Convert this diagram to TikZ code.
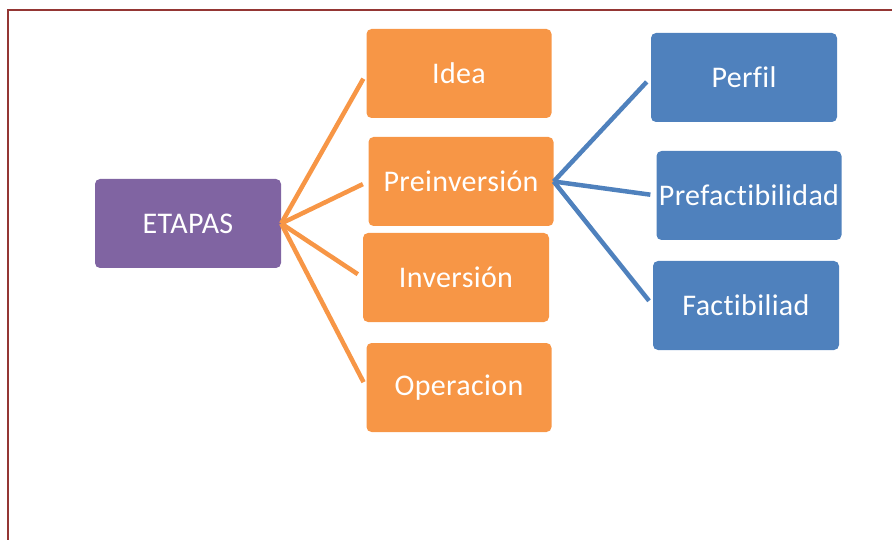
\documentclass[tikz,border=0pt]{standalone}
\usepackage{fontspec}
\setmainfont{Carlito}[Ligatures=NoCommon, LetterSpace=1.2]
\usepackage{tikz}
\usetikzlibrary{arrows}

\definecolor{etapacol}{HTML}{8064A2}
\definecolor{ramacol}{HTML}{F79646}
\definecolor{subcol}{HTML}{4F81BD}
\definecolor{margencol}{HTML}{943634}

\begin{document}
\begin{tikzpicture}[x=1pt,y=-1pt,
		caja/.style={rectangle, rounded corners=5pt, text=white, minimum height=89pt,
			minimum width=185pt, inner sep=1pt, font=\fontsize{30}{34}\selectfont},
		rama/.style={ramacol, line width=4.5pt, shorten >=6pt},
		subrama/.style={subcol, line width=4.5pt, shorten >=6pt}]
			\useasboundingbox (0,0) rectangle (892,540);
			\draw[margencol, line width=2.5pt] (892,10) -- (8,10) -- (8,540);

			\node[caja, fill=etapacol, minimum width=186pt] (e) at (188,223.5) {ETAPAS};
			\node[caja, fill=ramacol] (e-1) at (459,73.5) {Idea};
			\node[caja, fill=ramacol] (e-2) at (461,181.5) {Preinversión};
			\node[caja, fill=ramacol, minimum width=186pt] (e-3) at (456,277.5) {Inversión};
			\node[caja, fill=ramacol] (e-4) at (459,387.5) {Operacion};
			\node[caja, fill=subcol, minimum width=186pt] (e-2-1) at (744,77.5) {Perfil};
			\node[caja, fill=subcol] (e-2-2) at (749,195.5) {Prefactibilidad};
			\node[caja, fill=subcol, minimum width=186pt] (e-2-3) at (746,305.5) {Factibiliad};

			\path[rama]
			(e.east) edge (e-1.west) edge (e-2.west) edge (e-3.west) edge (e-4.west);
			\path[subrama]
			(e-2.east) edge (e-2-1.west) edge (e-2-2.west) edge (e-2-3.west);
		\end{tikzpicture}
\end{document}
